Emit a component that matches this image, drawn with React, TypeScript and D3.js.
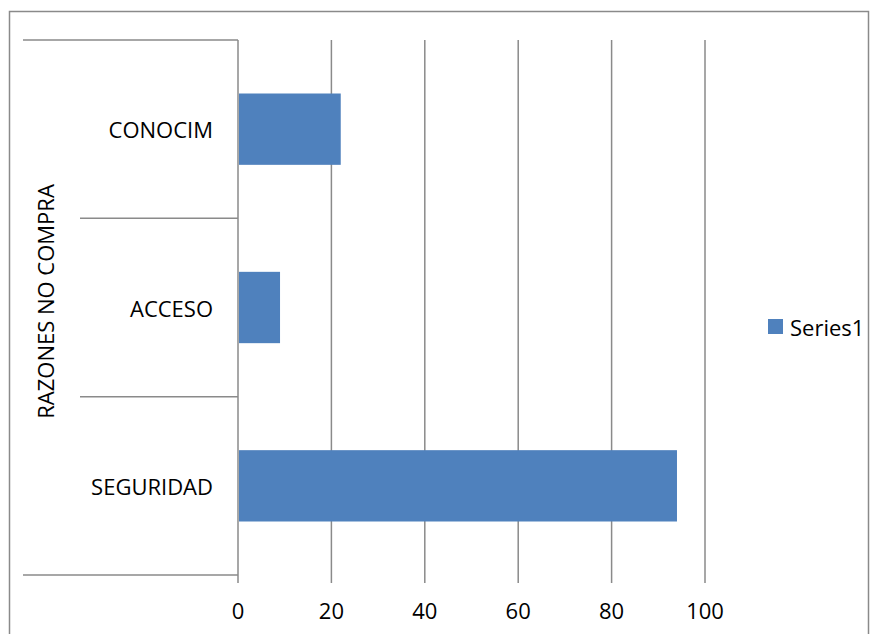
import React from "react";
import * as d3 from "d3";

const categories = ["CONOCIM", "ACCESO", "SEGURIDAD"];
const values = [22, 9, 94];
const xTicks = [0, 20, 40, 60, 80, 100];
const seriesName = "Series1";
const axisTitle = "RAZONES NO COMPRA";

const W = 879;
const H = 634;
const FONT = "'Open Sans', 'Liberation Sans', sans-serif";
const GRID = "#8a8a8a";
const BAR = "#4F81BD";

export default function App() {
  const x = d3.scaleLinear().domain([0, 100]).range([238, 705]);
  const y = d3
    .scaleBand<string>()
    .domain(categories)
    .range([40, 575])
    .paddingInner(0.6)
    .paddingOuter(0.3);
  const [y0, y1] = y.range();
  const seps = d3.range(categories.length + 1).map((i) => y0 + i * y.step());

  return (
    <svg
      width={W}
      height={H}
      style={{ position: "absolute", left: 0, top: 0, background: "#fff" }}
      fontFamily={FONT}
    >
      <rect x={0} y={0} width={W} height={H} fill="#fff" />
      <rect x={9.5} y={11.5} width={859} height={640} fill="none" stroke={GRID} strokeWidth={1.5} />
      {/* category separators */}
      {seps.map((s, i) => (
        <line
          key={"s" + i}
          x1={i === 0 || i === seps.length - 1 ? 23 : 80}
          x2={x(0)}
          y1={s}
          y2={s}
          stroke={GRID}
          strokeWidth={1.5}
        />
      ))}
      {/* vertical gridlines + ticks */}
      {xTicks.map((t) => (
        <line key={"g" + t} x1={x(t)} x2={x(t)} y1={y0} y2={y1 + 8} stroke={GRID} strokeWidth={1.5} />
      ))}
      {/* bars */}
      {categories.map((c, i) => (
        <rect
          key={c}
          x={x(0) + 1}
          y={y(c)}
          width={x(values[i]) - x(0) - 1}
          height={y.bandwidth()}
          fill={BAR}
        />
      ))}
      {/* x tick labels */}
      {xTicks.map((t) => (
        <text
          key={"t" + t}
          x={x(t)}
          y={610}
          fontSize={22}
          textAnchor="middle"
          dominantBaseline="central"
          fill="#000"
        >
          {t}
        </text>
      ))}
      {/* category labels */}
      {categories.map((c) => (
        <text
          key={"c" + c}
          x={213}
          y={(y(c) as number) + y.bandwidth() / 2}
          fontSize={22}
          textAnchor="end"
          dominantBaseline="central"
          fill="#000"
        >
          {c}
        </text>
      ))}
      {/* axis title */}
      <text
        transform={`translate(45,${(y0 + y1) / 2 - 6}) rotate(-90)`}
        fontSize={22}
        textAnchor="middle"
        dominantBaseline="central"
        fill="#000"
      >
        {axisTitle}
      </text>
      {/* legend */}
      <rect x={768} y={319} width={15} height={15} fill={BAR} />
      <text x={790} y={327} fontSize={22} dominantBaseline="central" fill="#000">
        {seriesName}
      </text>
    </svg>
  );
}
